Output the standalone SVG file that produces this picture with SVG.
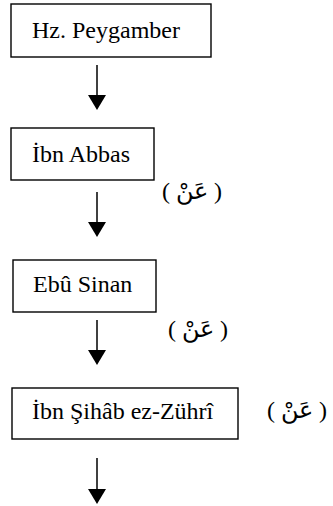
<svg xmlns="http://www.w3.org/2000/svg" width="333" height="506" viewBox="0 0 333 506">
<rect width="333" height="506" fill="#fff"/>
<g id="n1"><rect fill="#fff" stroke="#000" stroke-width="1.4" x="11" y="4" width="200" height="53"/><text font-family="Liberation Serif" font-size="24" x="32" y="38">Hz. Peygamber</text></g>
<g id="n2"><rect fill="#fff" stroke="#000" stroke-width="1.4" x="11" y="128" width="143" height="52"/><text font-family="Liberation Serif" font-size="24" x="32" y="162">İbn Abbas</text><text font-family="Liberation Serif" font-size="24" x="162" y="199">( عَنْ )</text></g>
<g id="n3"><rect fill="#fff" stroke="#000" stroke-width="1.4" x="13" y="260" width="143" height="52"/><text font-family="Liberation Serif" font-size="24" x="33" y="292">Ebû Sinan</text><text font-family="Liberation Serif" font-size="24" x="168" y="337">( عَنْ )</text></g>
<g id="n4"><rect fill="#fff" stroke="#000" stroke-width="1.4" x="12" y="388" width="226" height="51"/><text font-family="Liberation Serif" font-size="24" x="32" y="419">İbn Şihâb ez-Zührî</text><text font-family="Liberation Serif" font-size="24" x="267" y="418">( عَنْ )</text></g>
<g id="connectors" stroke="#000" stroke-width="1.5">
<line x1="97" y1="65" x2="97" y2="96"/><polygon points="88,95 106,95 97,110" fill="#000" stroke="none"/>
<line x1="97" y1="192" x2="97" y2="223"/><polygon points="88,222 106,222 97,237" fill="#000" stroke="none"/>
<line x1="97" y1="320" x2="97" y2="351"/><polygon points="88,350 106,350 97,365" fill="#000" stroke="none"/>
<line x1="97" y1="458" x2="97" y2="490"/><polygon points="88,489 106,489 97,504" fill="#000" stroke="none"/>
</g>
</svg>
